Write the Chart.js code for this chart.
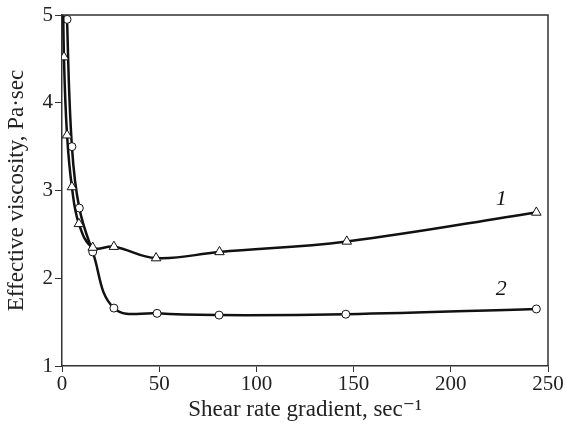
<!DOCTYPE html>
<html>
<head>
<meta charset="utf-8">
<script src="https://cdn.jsdelivr.net/npm/chart.js@4"></script>
<style>
  body { margin: 0; background: #fff; }
  #wrap { width: 566px; height: 425px; }
</style>
</head>
<body>
<div id="wrap"><canvas id="viscChart" width="566" height="425"></canvas></div>
<script>
// curve 1 (triangles)
const shear1 = [0.4, 1, 2.6, 5.1, 8.7, 15.8, 26.7, 48.4, 81, 146.5, 244];
const visc1 = [5.6, 4.52, 3.63, 3.04, 2.62, 2.35, 2.36, 2.23, 2.30, 2.42, 2.75];
// curve 2 (circles)
const shear2 = [2.2, 2.6, 5.1, 8.9, 15.8, 26.7, 48.9, 80.8, 146, 244];
const visc2 = [5.6, 4.95, 3.50, 2.80, 2.30, 1.66, 1.60, 1.58, 1.59, 1.65];

const curveLabels = ['1', '2'];
const labelX = [226, 226];
const labelY = [2.90, 1.88];

const xTicks = [0, 50, 100, 150, 200, 250];
const yTicks = [1, 2, 3, 4, 5];

function toPoints(xs, ys) {
    return xs.map((x, i) => ({ x: x, y: ys[i] }));
}

// first point of each list is only there to carry the line out of the top
function radiusFor(len) {
    return (ctx) => ctx.dataIndex === 0 ? 0 : len;
}

const frame = {
    id: 'frame',
    afterDraw(chart) {
        const { ctx, chartArea: a } = chart;
        ctx.save();
        ctx.strokeStyle = '#333';
        ctx.lineWidth = 1.5;
        ctx.beginPath();
        ctx.moveTo(a.left, a.top);
        ctx.lineTo(a.right, a.top);
        ctx.lineTo(a.right, a.bottom);
        ctx.stroke();
        ctx.fillStyle = '#111';
        ctx.font = 'italic 22px "Liberation Serif"';
        ctx.textAlign = 'center';
        ctx.textBaseline = 'middle';
        curveLabels.forEach((t, i) => {
            ctx.fillText(t, chart.scales.x.getPixelForValue(labelX[i]),
                chart.scales.y.getPixelForValue(labelY[i]));
        });
        ctx.restore();
    }
};

const serif = '"Liberation Serif", "DejaVu Serif", serif';

new Chart(document.getElementById('viscChart').getContext('2d'), {
    type: 'line',
    data: {
        datasets: [{
            label: '1',
            data: toPoints(shear1, visc1),
            borderColor: '#111',
            borderWidth: 2.5,
            pointStyle: 'triangle',
            pointRadius: radiusFor(5.5),
            pointBackgroundColor: '#fff',
            pointBorderColor: '#111',
            pointBorderWidth: 1,
            tension: 0.4
        }, {
            label: '2',
            data: toPoints(shear2, visc2),
            borderColor: '#111',
            borderWidth: 2.5,
            pointStyle: 'circle',
            pointRadius: radiusFor(4),
            pointBackgroundColor: '#fff',
            pointBorderColor: '#111',
            pointBorderWidth: 1,
            tension: 0.4
        }]
    },
    options: {
        responsive: false,
        animation: false,
        layout: { padding: { top: 15, right: 18, left: 0, bottom: 0 } },
        plugins: { legend: { display: false }, tooltip: { enabled: false } },
        scales: {
            x: {
                type: 'linear',
                min: 0, max: 250,
                afterBuildTicks: (s) => { s.ticks = xTicks.map(v => ({ value: v })); },
                afterFit: (s) => { s.height = 59; },
                border: { color: '#333', width: 1.5 },
                grid: { drawOnChartArea: false, drawTicks: true, tickLength: 6, color: '#333' },
                ticks: { color: '#222', font: { family: serif, size: 21 }, padding: 0, maxRotation: 0 },
                title: {
                    display: true,
                    text: 'Shear rate gradient, sec\u207B\u00B9',
                    color: '#222',
                    font: { family: serif, size: 23 },
                    padding: { top: 0, bottom: 1 }
                }
            },
            y: {
                min: 1, max: 5,
                afterBuildTicks: (s) => { s.ticks = yTicks.map(v => ({ value: v })); },
                afterFit: (s) => { s.width = 62; },
                border: { color: '#333', width: 1.5 },
                grid: { drawOnChartArea: false, drawTicks: true, tickLength: 7, color: '#333' },
                ticks: { color: '#222', font: { family: serif, size: 21 }, padding: 2 },
                title: {
                    display: true,
                    text: 'Effective viscosity, Pa\u00B7sec',
                    color: '#222',
                    font: { family: serif, size: 23 },
                    padding: { top: 3, bottom: 4 }
                }
            }
        }
    },
    plugins: [frame]
});
</script>
</body>
</html>
